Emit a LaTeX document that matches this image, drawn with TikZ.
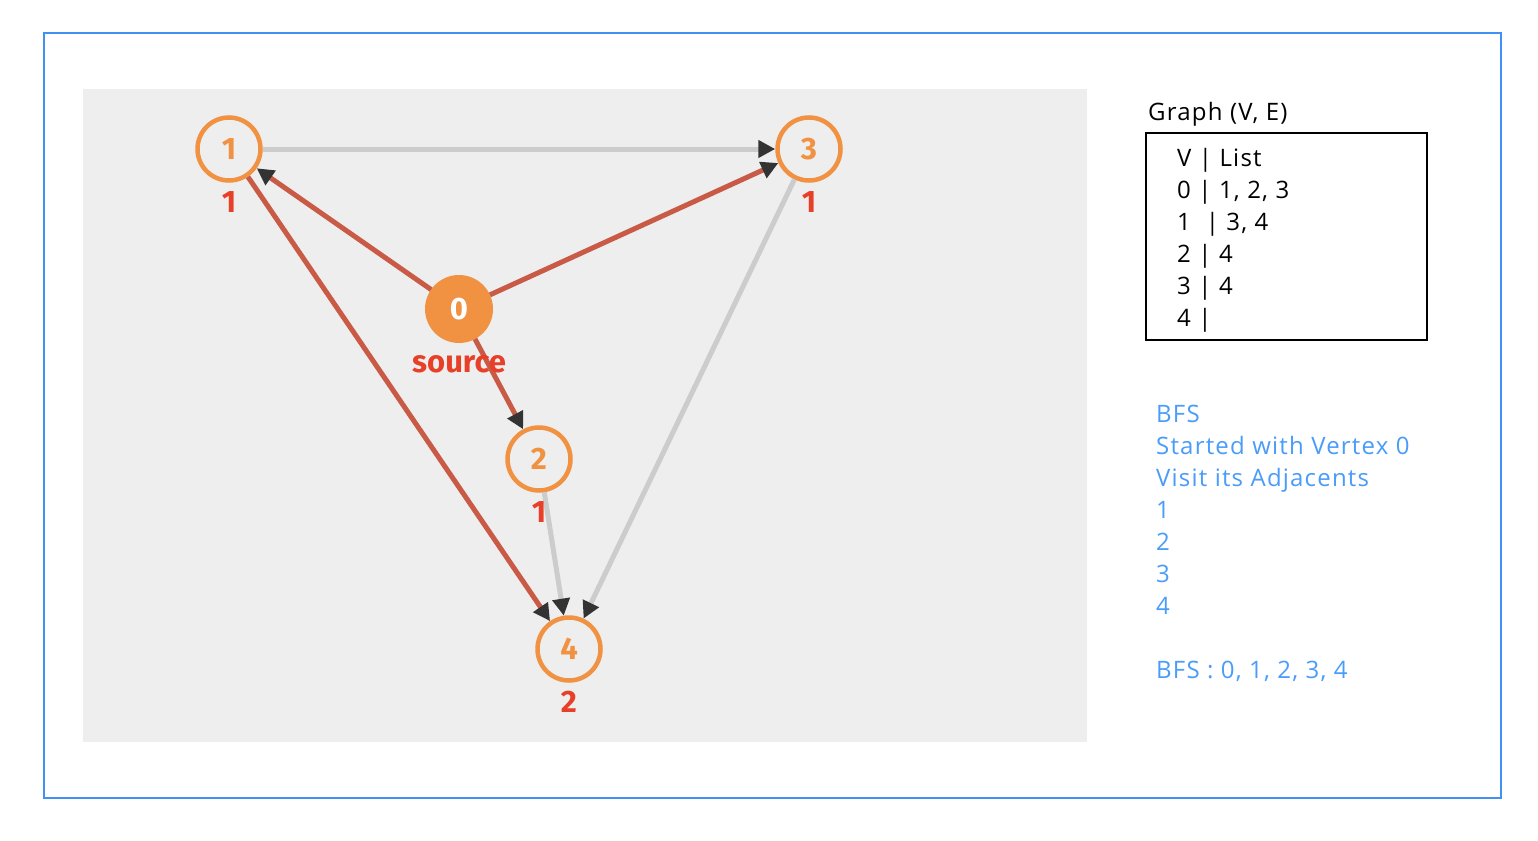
\documentclass[tikz,border=0pt]{standalone}
\usepackage{fontspec}
\setmainfont{Open Sans}[LetterSpace=5]
\newfontfamily\nodefont{Fira Sans}
\usetikzlibrary{arrows.meta}
\definecolor{frameblue}{RGB}{65,145,245}
\definecolor{panelgray}{RGB}{238,238,238}
\definecolor{vorange}{RGB}{240,146,66}
\definecolor{lvlred}{RGB}{232,64,40}
\definecolor{edgered}{RGB}{200,90,70}
\definecolor{edgegray}{RGB}{204,204,204}
\definecolor{tipc}{RGB}{51,51,51}
\definecolor{infoblue}{RGB}{74,156,250}
\newcommand\nodefnt{\nodefont\bfseries\fontsize{31}{34}\selectfont}
\newcommand\infofnt{\fontsize{24}{28}\selectfont}
\tikzset{
  vtx/.style={circle,draw=vorange,line width=4.5pt,minimum size=63pt,inner sep=0pt,text=vorange,font=\nodefnt},
  srcvtx/.style={circle,fill=vorange,minimum size=68pt,inner sep=0pt,outer sep=0pt,text=white,font=\nodefnt},
  lvl/.style={anchor=base,text=lvlred,font=\nodefnt,inner sep=0pt},
  redge/.style={draw=edgered,line width=5pt,-{Triangle[length=17pt,width=17pt,color=tipc]}},
  gedge/.style={draw=edgegray,line width=5pt,-{Triangle[length=17pt,width=17pt,color=tipc]}},
  info/.style={anchor=base west,font=\infofnt,inner sep=0pt},
  blueinfo/.style={info,text=infoblue},
}
\begin{document}
\begin{tikzpicture}[x=1pt,y=-1pt]
\useasboundingbox[fill=white] (0,0) rectangle (1538,840);
\draw[frameblue,line width=2pt] (44,33) rectangle (1501,798);
\fill[panelgray] (83,89) rectangle (1087,742);
% vertices
\node[vtx] (v1) at (229,149) {1};
\node[vtx] (v3) at (809,149) {3};
\node[srcvtx] (v0) at (459,309) {0};
\node[vtx] (v2) at (539,459) {2};
\node[vtx] (v4) at (569,649) {4};
% edges
\draw[gedge] (v1) -- (v3);
\draw[gedge] (v2) -- (v4);
\draw[gedge] (v3) -- (v4);
\draw[redge] (v0) -- (v1);
\draw[redge] (v0) -- (v3);
\draw[redge] (v0) -- (v2);
\draw[redge] (v1) -- (v4);
% levels
\node[lvl] (l1) at (229,212) {1};
\node[lvl] (l3) at (809,212) {1};
\node[lvl] (l0) at (459,372) {source};
\node[lvl] (l2) at (539,522) {1};
\node[lvl] (l4) at (569,712) {2};
% adjacency list
\node[info] (gt) at (1148,121) {Graph (V, E)};
\draw[black,line width=1.5pt] (1146,133) rectangle (1427,340);
\node[info] (r0) at (1177,166) {V | List};
\node[info] (r1) at (1177,198) {0 | 1, 2, 3};
\node[info] (r2) at (1177,230) {1\ \ | 3, 4};
\node[info] (r3) at (1177,262) {2 | 4};
\node[info] (r4) at (1177,294) {3 | 4};
\node[info] (r5) at (1177,326) {4 |};
% BFS text
\node[blueinfo] (b1) at (1156,422) {BFS};
\node[blueinfo] (b2) at (1156,454) {Started with Vertex 0};
\node[blueinfo] (b3) at (1156,486) {Visit its Adjacents};
\node[blueinfo] (b4) at (1156,518) {1};
\node[blueinfo] (b5) at (1156,550) {2};
\node[blueinfo] (b6) at (1156,582) {3};
\node[blueinfo] (b7) at (1156,614) {4};
\node[blueinfo] (b8) at (1156,678) {BFS : 0, 1, 2, 3, 4};
\end{tikzpicture}
\end{document}
